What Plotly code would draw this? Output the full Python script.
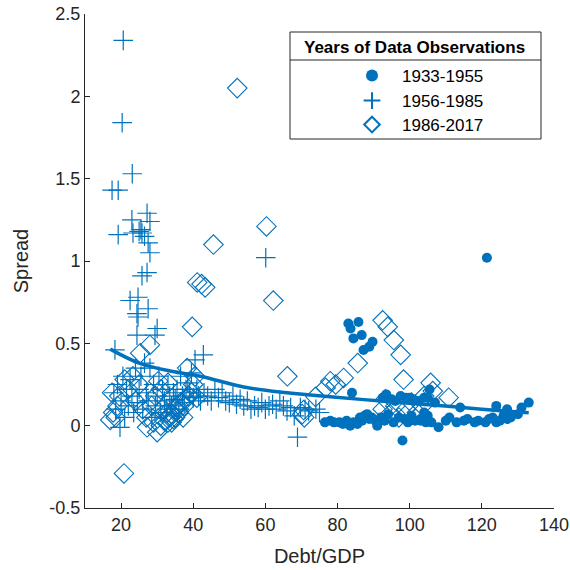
import plotly.graph_objects as go

BLUE = "#0072BD"

# 1933-1955 (filled dots)
x_1933 = [83.0, 85.8, 83.6, 84.4, 86.7, 89.7, 88.8, 87.2, 84.0,
          76.5, 78.0, 79.0, 80.5, 81.5, 82.5, 83.5, 84.5, 85.5, 86.2, 86.8, 87.5, 88.2, 88.8, 89.5, 90.5, 91.0,
          98.0,
          92.5, 93.5, 95.0, 96.0, 97.5, 99.0, 100.0, 101.0, 102.5, 104.0,
          92.0, 93.0, 94.0, 95.5, 97.0, 98.5, 99.5, 100.5, 101.5, 103.0, 104.0, 105.0, 106.0,
          105.0, 107.0, 105.5, 114.0, 124.0, 127.0, 131.0, 133.0,
          103.0, 104.5, 108.0, 110.0, 111.0, 113.0, 115.0, 116.0, 118.0, 119.0, 121.0, 122.0, 123.0,
          124.0, 125.0, 126.0, 127.0, 128.0, 130.0,
          121.4]
y_1933 = [0.62, 0.63, 0.59, 0.53, 0.55, 0.51, 0.48, 0.46, 0.20,
          0.02, 0.03, 0.02, 0.02, 0.01, 0.03, 0.00, 0.02, 0.01, 0.05, 0.03, 0.06, 0.07, 0.04, 0.05, 0.03, 0.00,
          -0.09,
          0.17, 0.19, 0.16, 0.15, 0.18, 0.17, 0.17, 0.16, 0.15, 0.17,
          0.05, 0.03, 0.07, 0.02, 0.05, 0.04, 0.02, 0.06, 0.03, 0.04, 0.08, 0.06, 0.02,
          0.17, 0.14, 0.22, 0.11, 0.12, 0.10, 0.11, 0.14,
          0.03, 0.02, -0.01, 0.03, 0.05, 0.02, 0.03, 0.04, 0.02, 0.03, 0.02, 0.04, 0.05,
          0.02, 0.03, 0.06, 0.04, 0.05, 0.07,
          1.02]

# 1956-1985 (plus)
x_1956 = [20.6, 20.3, 23.1, 17.5, 19.2, 27.2, 23.0, 28.0, 19.2, 23.3, 25.0, 25.8, 26.5, 25.5, 27.5,
          28.0, 27.2, 25.8, 22.5, 24.7, 27.5, 24.4, 24.7, 30.0, 24.4, 29.4, 60.1, 18.3, 42.8,
          18.0, 18.5, 19.0, 19.7, 20.0, 20.5, 21.0, 21.5, 22.0, 22.5, 23.0, 23.5, 24.0, 24.5, 25.0,
          25.5, 26.0, 26.5, 27.0, 27.5, 28.0, 28.5, 29.0, 29.5, 30.0, 30.5, 31.0, 31.5, 32.0, 32.5,
          33.0, 33.5, 34.0, 34.5, 35.0, 35.5, 36.0, 36.5, 37.0, 37.5, 38.0, 38.5, 39.0, 39.5, 40.0,
          40.5, 41.0, 41.5, 42.0, 43.0, 44.0, 45.0, 46.0, 47.0, 48.0, 49.0, 50.0, 51.0, 52.0, 53.0,
          54.0, 55.0, 56.0, 57.0, 58.0, 59.0, 60.0, 61.0, 62.0, 63.0, 64.0, 65.0, 66.0, 67.0, 68.0,
          68.9, 69.7, 71.0, 72.0, 74.0, 75.0]
y_1956 = [2.34, 1.84, 1.53, 1.43, 1.43, 1.29, 1.25, 1.24, 1.16, 1.17, 1.18, 1.17, 1.15, 1.19, 1.11,
          1.05, 0.93, 0.91, 0.76, 0.78, 0.71, 0.68, 0.66, 0.59, 0.55, 0.55, 1.02, 0.46, 0.43,
          0.20, 0.10, 0.25, -0.01, 0.15, 0.30, 0.05, 0.22, 0.12, 0.28, 0.18, 0.08, 0.35, 0.14, 0.22,
          0.30, 0.10, 0.38, 0.20, 0.15, 0.35, 0.05, 0.25, 0.12, 0.18, 0.30, 0.08, 0.22, 0.15, 0.10,
          0.25, 0.18, 0.12, 0.20, 0.16, 0.22, 0.10, 0.30, 0.18, 0.14, 0.22, 0.26, 0.20, 0.32, 0.17,
          0.40, 0.22, 0.18, 0.15, 0.20, 0.18, 0.15, 0.22, 0.17, 0.20, 0.15, 0.14, 0.18, 0.13, 0.16,
          0.12, 0.15, 0.10, 0.12, 0.11, 0.14, 0.10, 0.12, 0.13, 0.10, 0.15, 0.12, 0.09, 0.11, 0.06,
          -0.07, 0.11, 0.10, 0.09, 0.10, 0.08]

# 1986-2017 (open diamonds)
x_1986 = [52.2, 60.3, 45.6, 62.2, 41.1, 42.3, 43.3, 39.7, 66.1, 20.8,
          92.5, 93.9, 95.6, 97.5, 98.3, 85.6, 81.7, 78.0, 76.7, 73.9, 70.6, 70.2, 70.8, 79.5,
          93.3, 92.5, 94.5, 96.0, 97.0, 99.0, 100.5, 102.0, 103.5, 105.8, 106.4, 110.8, 104.0,
          17.5, 17.8, 17.0, 18.5, 19.0, 19.5, 21.0, 23.3, 25.3, 28.0, 30.3, 27.2, 30.0, 32.8, 37.2,
          38.3, 41.0, 22.0, 24.0, 25.0, 26.0, 27.0, 28.5, 29.0, 31.0, 31.5, 32.0, 33.0, 33.5, 34.0,
          34.5, 35.0, 35.5, 36.0, 36.5, 37.5, 38.0, 38.8, 39.5, 40.0, 40.5, 34.0, 35.0, 36.0, 29.5,
          31.0, 33.0]
y_1986 = [2.05, 1.21, 1.10, 0.76, 0.87, 0.86, 0.84, 0.60, 0.30, -0.29,
          0.64, 0.60, 0.52, 0.43, 0.28, 0.38, 0.29, 0.27, 0.23, 0.175, 0.095, 0.07, 0.05, 0.25,
          0.16, 0.10, 0.07, 0.12, 0.05, 0.10, 0.14, 0.08, 0.12, 0.26, 0.21, 0.17, 0.18,
          0.20, 0.08, 0.035, 0.05, 0.12, 0.18, 0.28, 0.30, 0.44, 0.49, 0.27, -0.01, -0.04, 0.08, 0.05,
          0.35, 0.17, 0.22, 0.15, 0.25, 0.10, 0.05, 0.12, 0.02, 0.00, 0.10, 0.03, 0.02, 0.05, 0.07,
          0.04, 0.10, 0.12, 0.08, 0.14, 0.12, 0.16, 0.18, 0.20, 0.25, 0.30, 0.02, 0.05, 0.10, 0.18,
          0.22, 0.26]

# fitted curve
x_fit = [17, 25, 34, 42, 54, 66, 78, 92, 106, 120, 133]
y_fit = [0.465, 0.38, 0.33, 0.30, 0.235, 0.20, 0.175, 0.15, 0.126, 0.10, 0.078]

FONT = "Liberation Sans, Arial, Helvetica, sans-serif"
TXT = "#262626"

fig = go.Figure()
fig.add_trace(go.Scatter(x=x_1933, y=y_1933, mode="markers", name="1933-1955",
                         marker=dict(symbol="circle", size=10, color=BLUE), legend="legend"))
fig.add_trace(go.Scatter(x=x_1956, y=y_1956, mode="markers", name="1956-1985",
                         marker=dict(symbol="cross-thin-open", size=14, color=BLUE,
                                     line=dict(width=1.2, color=BLUE)), legend="legend2"))
fig.add_trace(go.Scatter(x=x_1986, y=y_1986, mode="markers", name="1986-2017",
                         marker=dict(symbol="diamond-open", size=15, color=BLUE,
                                     line=dict(width=1.1, color=BLUE)), legend="legend3"))
fig.add_trace(go.Scatter(x=x_fit, y=y_fit, mode="lines", line=dict(color=BLUE, width=3.5, shape="spline"),
                         showlegend=False))

# screen-pixel -> paper coordinates (plot area spans x 85..554, y 14..508)
def pxx(px):
    return (px - 85) / 469

def pxy(py):
    return (508 - py) / 494

leg_common = dict(font=dict(family=FONT, size=17, color="#000000"), bgcolor="rgba(0,0,0,0)",
                  borderwidth=0, xanchor="left", yanchor="middle", itemsizing="constant",
                  itemwidth=50)
fig.update_layout(
    legend=dict(x=pxx(342), y=pxy(76), **leg_common),
    legend2=dict(x=pxx(342), y=pxy(101), **leg_common),
    legend3=dict(x=pxx(342), y=pxy(125), **leg_common),
)

fig.add_shape(type="rect", xref="paper", yref="paper", x0=pxx(290), x1=pxx(541), y0=pxy(139), y1=pxy(32),
              line=dict(color=TXT, width=1), fillcolor="white", layer="above")
fig.add_shape(type="line", xref="paper", yref="paper", x0=pxx(290), x1=pxx(541), y0=pxy(60), y1=pxy(60),
              line=dict(color=TXT, width=1), layer="above")
fig.add_annotation(xref="paper", yref="paper", x=pxx(414), y=pxy(47), text="<b>Years of Data Observations</b>",
                   showarrow=False, font=dict(family=FONT, size=17, color="#000000"),
                   xanchor="center", yanchor="middle")

axis_common = dict(showgrid=False, zeroline=False, showline=True, linecolor=TXT, linewidth=1,
                   ticks="inside", ticklen=5, tickcolor=TXT, mirror=False, automargin=False,
                   ticklabeloverflow="allow",
                   tickfont=dict(family=FONT, size=18, color=TXT))
fig.update_xaxes(range=[10, 140], tickvals=[20, 40, 60, 80, 100, 120, 140],
                 title=dict(text="Debt/GDP", font=dict(family=FONT, size=20, color=TXT)),
                 **axis_common)
fig.update_yaxes(range=[-0.5, 2.5], tickvals=[-0.5, 0, 0.5, 1, 1.5, 2, 2.5],
                 ticktext=["-0.5", "0", "0.5", "1", "1.5", "2", "2.5"],
                 title=dict(text="Spread", font=dict(family=FONT, size=20, color=TXT)),
                 **axis_common)

fig.update_layout(width=570, height=570, margin=dict(l=85, r=16, t=14, b=62),
                  plot_bgcolor="white", paper_bgcolor="white")

# remove the default 8px page margin so the figure fills the window exactly
fig.write_html("out.html", config={"displayModeBar": False},
               post_script="document.body.style.margin='0';document.body.style.overflow='hidden';")
